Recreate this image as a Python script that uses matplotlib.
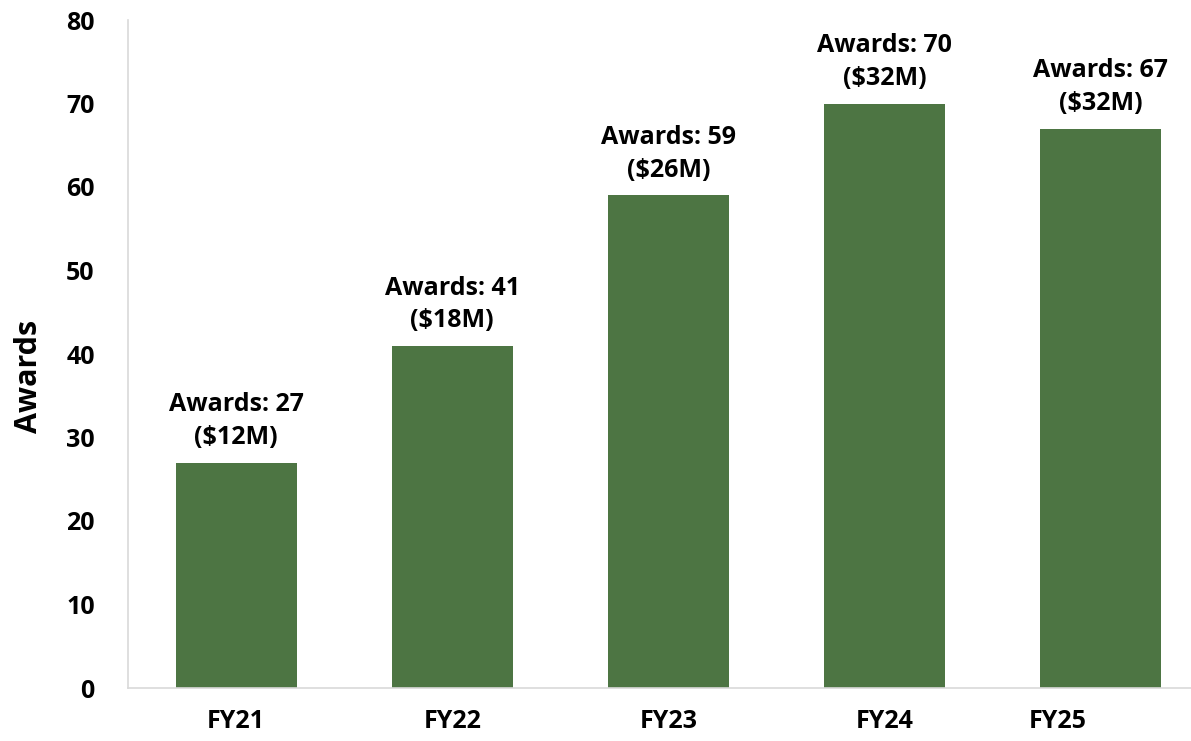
import matplotlib
matplotlib.use("Agg")
import matplotlib.pyplot as plt
import matplotlib.transforms as mtransforms

categories = ["FY21", "FY22", "FY23", "FY24", "FY25"]
awards = [27, 41, 59, 70, 67]
dollars_m = [12, 18, 26, 32, 32]
yticks = [0, 10, 20, 30, 40, 50, 60, 70, 80]

plt.rcParams['font.family'] = ['Open Sans', 'DejaVu Sans']

fig = plt.figure(figsize=(11.91, 7.41), dpi=100)
ax = fig.add_axes([128/1191, 53/741, (1209-128)/1191, (688-20)/741])

x = list(range(len(categories)))
bars = ax.bar(x, awards, width=0.56, color="#4D7543", zorder=2)

ax.set_xlim(-0.5, len(categories) - 0.5)
ax.set_ylim(0, 80)
ax.set_yticks(yticks)
ax.set_xticks(x)
ax.set_xticklabels([])

for xi, a, d in zip(x, awards, dollars_m):
    ax.annotate(f"Awards: {a}\n(${d}M)", xy=(xi, a), xytext=(0, 9),
                textcoords="offset points", ha="center", va="bottom",
                fontsize=18, fontweight="bold", color="black", linespacing=1.4)

# category labels; the last one nudged left as in the reference
trans = mtransforms.blended_transform_factory(ax.transData, ax.transAxes)
for i, (xi, c) in enumerate(zip(x, categories)):
    dx = -43/100 if i == len(categories) - 1 else 0
    t = trans + mtransforms.ScaledTranslation(dx, -33/100, fig.dpi_scale_trans)
    ax.text(xi, 0, c, transform=t, ha="center", va="center",
            fontsize=18, fontweight="bold", color="black", clip_on=False)

for lbl in ax.get_yticklabels():
    lbl.set_fontweight("bold")
    lbl.set_fontsize(18)
    lbl.set_color("black")

ax.tick_params(axis="both", length=0)
ax.tick_params(axis="y", pad=24)

ax.set_ylabel("Awards", fontsize=22, fontweight="bold")
ax.yaxis.set_label_coords(-0.078, 0.467)

for s in ["top", "right"]:
    ax.spines[s].set_visible(False)
ax.spines["left"].set_color("#D9D9D9")
ax.spines["bottom"].set_color("#D9D9D9")
ax.spines["left"].set_linewidth(1.2)
ax.spines["bottom"].set_linewidth(1.2)

fig.savefig("out.png", dpi=100)
